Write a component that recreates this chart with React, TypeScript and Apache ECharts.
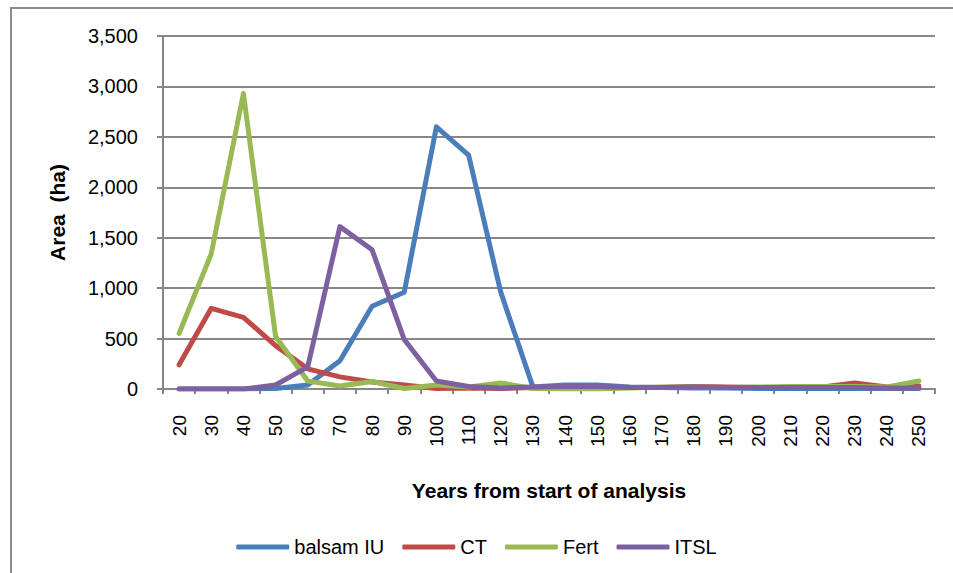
import React, { useEffect, useRef } from "react";
import * as echarts from "echarts";

const categories = ["20","30","40","50","60","70","80","90","100","110","120","130","140","150","160","170","180","190","200","210","220","230","240","250"];
const balsamIU = [0,0,0,5,40,280,820,960,2600,2320,960,20,40,40,20,15,10,10,5,5,5,5,5,5];
const ct = [240,800,710,430,200,120,70,40,5,10,5,15,15,15,15,15,25,20,15,15,20,60,20,30];
const fert = [550,1340,2930,520,80,30,75,5,40,20,60,5,0,0,10,20,20,15,20,25,25,25,20,80];
const itsl = [0,0,0,40,220,1610,1380,490,80,25,10,20,25,25,15,15,20,15,15,15,15,15,10,10];
const yTicks = [0,500,1000,1500,2000,2500,3000,3500];

const seriesNames = ["balsam IU", "CT", "Fert", "ITSL"];
const seriesColors = ["#4A7EBB", "#BE4B48", "#98B954", "#7D60A0"];
const seriesData = [balsamIU, ct, fert, itsl];

const FONT = "'Liberation Sans', Arial, sans-serif";
const GRAY = "#878787";

export default function App() {
  const ref = useRef<HTMLDivElement>(null);
  useEffect(() => {
    document.body.style.margin = "0";
    if (!ref.current) return;
    const chart = echarts.init(ref.current, undefined, { renderer: "svg" });
    chart.setOption({
      animation: false,
      backgroundColor: "#ffffff",
      textStyle: { fontFamily: FONT },
      graphic: [
        {
          type: "rect",
          shape: { x: 11, y: 8, width: 1200, height: 800 },
          style: { fill: "none", stroke: "#8c8c8c", lineWidth: 2 },
          z: -1,
          silent: true,
        },
      ],
      grid: { left: 163, right: 18, top: 36, bottom: 184, containLabel: false },
      legend: {
        data: seriesNames,
        left: "center",
        top: 532,
        icon: "roundRect",
        itemWidth: 53,
        itemHeight: 5,
        itemGap: 18,
        textStyle: { fontFamily: FONT, fontSize: 20, color: "#000" },
      },
      xAxis: {
        type: "category",
        data: categories,
        boundaryGap: true,
        name: "Years from start of analysis",
        nameLocation: "middle",
        nameGap: 91,
        nameTextStyle: { fontFamily: FONT, fontSize: 21, fontWeight: "bold", color: "#000" },
        axisLine: { show: true, lineStyle: { color: GRAY, width: 2 } },
        axisTick: { show: true, alignWithLabel: false, length: 5, lineStyle: { color: GRAY, width: 2 } },
        axisLabel: { rotate: 90, margin: 26, fontSize: 19, color: "#000", fontFamily: FONT, interval: 0 },
        splitLine: { show: false },
      },
      yAxis: {
        type: "value",
        min: yTicks[0],
        max: yTicks[yTicks.length - 1],
        interval: 500,
        name: "Area  (ha)",
        nameLocation: "middle",
        nameGap: 95,
        nameTextStyle: { fontFamily: FONT, fontSize: 21, fontWeight: "bold", color: "#000" },
        axisLine: { show: true, lineStyle: { color: GRAY, width: 2 } },
        axisTick: { show: true, inside: false, length: 6, lineStyle: { color: GRAY, width: 2 } },
        axisLabel: {
          margin: 25,
          fontSize: 20,
          color: "#000",
          fontFamily: FONT,
          formatter: (v: number) => v.toLocaleString("en-US"),
        },
        splitLine: { show: true, lineStyle: { color: GRAY, width: 2 } },
      },
      series: seriesNames.map((name, i) => ({
        name,
        type: "line",
        data: seriesData[i],
        symbol: "none",
        smooth: false,
        itemStyle: { color: seriesColors[i] },
        lineStyle: { color: seriesColors[i], width: 5, cap: "round", join: "round" },
      })),
    });
    return () => chart.dispose();
  }, []);
  return <div ref={ref} style={{ width: 953, height: 573 }} />;
}
